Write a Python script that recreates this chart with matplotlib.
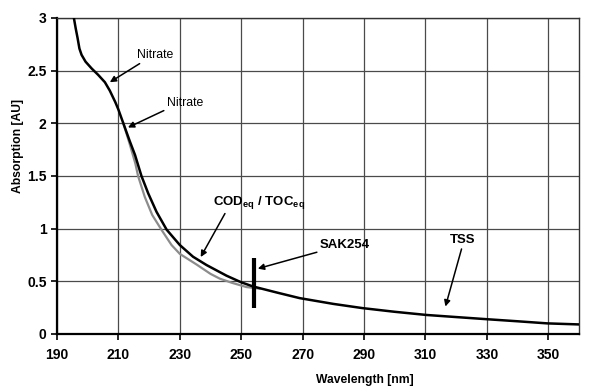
import matplotlib
matplotlib.use("Agg")
import matplotlib.pyplot as plt

plt.rcParams['font.family'] = ['Liberation Sans', 'DejaVu Sans']
plt.rcParams['mathtext.fontset'] = 'custom'
plt.rcParams['mathtext.rm'] = 'Liberation Sans'
plt.rcParams['mathtext.bf'] = 'Liberation Sans:bold'

# Data
wl_total = [195.5, 196.1, 196.7, 197.3, 198.0, 199.3, 201.3, 203.4, 205.6, 207.2,
            209, 210, 211.6, 213.7, 215.4, 217.5, 219.7, 222.4, 225.7, 230,
            234.3, 238.7, 245.2, 250, 253.9, 262, 269, 280, 289.5, 300, 310.3,
            320, 329.8, 340, 349.7, 360]
abs_total = [3.0, 2.90, 2.81, 2.71, 2.65, 2.585, 2.52, 2.46, 2.39, 2.31,
             2.20, 2.13, 2.0, 1.83, 1.70, 1.50, 1.335, 1.16, 0.99, 0.844,
             0.733, 0.654, 0.553, 0.49, 0.45, 0.39, 0.34, 0.285, 0.245, 0.21, 0.18,
             0.16, 0.14, 0.12, 0.10, 0.09]
wl_no_cod = [211.6, 213.6, 215.5, 216.4, 218.6, 221, 224, 227.3, 230, 235.4,
             240, 243, 247, 251.7, 256]
abs_no_cod = [2.0, 1.81, 1.62, 1.50, 1.30, 1.13, 0.99, 0.844, 0.76, 0.66,
              0.57, 0.525, 0.485, 0.445, 0.43]

sak_wl = 254
sak_range = [0.245, 0.72]

x_ticks = [190, 210, 230, 250, 270, 290, 310, 330, 350]
y_ticks = [0, 0.5, 1, 1.5, 2, 2.5, 3]
y_tick_labels = ["0", "0.5", "1", "1.5", "2", "2.5", "3"]

fig = plt.figure(figsize=(6.0, 3.91), dpi=100)
ax = fig.add_axes([0.095, 0.146, 0.870, 0.808])

ax.set_xlim(190, 360)
ax.set_ylim(0, 3)
ax.set_xticks(x_ticks)
ax.set_yticks(y_ticks)
ax.set_yticklabels(y_tick_labels)
ax.grid(True, color='#4a4a4a', linewidth=0.9)
ax.set_axisbelow(True)

for s in ['top', 'right']:
    ax.spines[s].set_color('#333333')
    ax.spines[s].set_linewidth(1.0)
for s in ['left', 'bottom']:
    ax.spines[s].set_color('black')
    ax.spines[s].set_linewidth(1.6)

ax.tick_params(axis='both', direction='out', length=4, width=1.2, colors='black',
               labelsize=10)
for lab in ax.get_xticklabels() + ax.get_yticklabels():
    lab.set_fontweight('bold')
ax.tick_params(axis='x', pad=6)

ax.plot(wl_no_cod, abs_no_cod, color='#8c8c8c', linewidth=1.6, zorder=3,
        solid_joinstyle='round')
ax.plot(wl_total, abs_total, color='black', linewidth=1.8, zorder=4,
        solid_joinstyle='round')
ax.vlines(sak_wl, sak_range[0], sak_range[1], color='black', linewidth=3, zorder=5)

arrow = dict(arrowstyle='-|>', color='black', lw=1.1, mutation_scale=9,
             shrinkA=0, shrinkB=0)

ax.annotate('Nitrate', xy=(207.2, 2.39), xytext=(221.9, 2.65), fontsize=8.8,
            ha='center', va='center', arrowprops=dict(arrow, relpos=(0.2, 0.0)))
ax.annotate('Nitrate', xy=(213.1, 1.96), xytext=(231.6, 2.19), fontsize=8.8,
            ha='center', va='center', arrowprops=dict(arrow, relpos=(0.0, 0.0)))
ax.annotate(r'COD$_{\mathbf{eq}}$ / TOC$_{\mathbf{eq}}$', xy=(236.8, 0.73),
            xytext=(240.7, 1.25), fontsize=9.5, fontweight='bold',
            ha='left', va='center', arrowprops=dict(arrow, relpos=(0.15, 0.0)))
ax.annotate('SAK254', xy=(255.4, 0.62), xytext=(283.7, 0.84), fontsize=9.5,
            fontweight='bold', ha='center', va='center',
            arrowprops=dict(arrow, relpos=(0.0, 0.0)))
ax.annotate('TSS', xy=(316.5, 0.26), xytext=(322.0, 0.89), fontsize=9.5,
            fontweight='bold', ha='center', va='center',
            arrowprops=dict(arrow, relpos=(0.5, 0.0)))

fig.text(365 / 600, 1 - 380 / 391, 'Wavelength [nm]', fontsize=8.7,
         fontweight='bold', ha='center', va='center')
fig.text(18 / 600, 1 - 146.5 / 391, 'Absorption [AU]', fontsize=8.7,
         fontweight='bold', ha='center', va='center', rotation=90)

fig.savefig('out.png', dpi=100)
